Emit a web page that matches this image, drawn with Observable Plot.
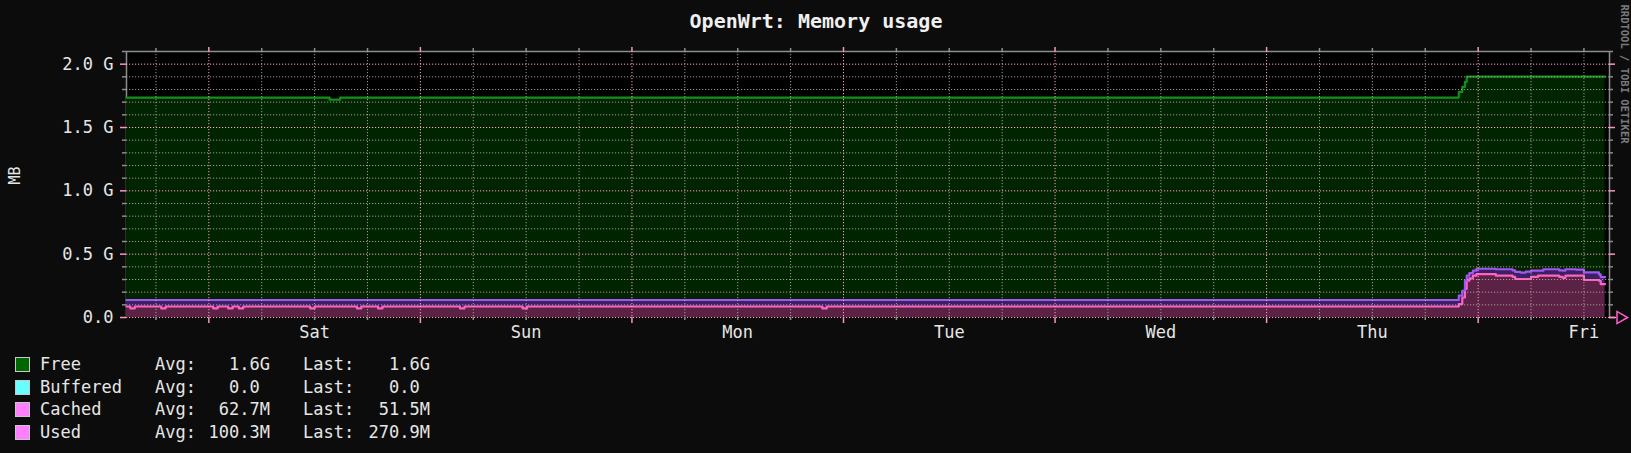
<!DOCTYPE html>
<html><head><meta charset="utf-8">
<script src="https://cdn.jsdelivr.net/npm/d3@7"></script>
<script src="https://cdn.jsdelivr.net/npm/@observablehq/plot@0.6"></script>
<style>
html,body{margin:0;padding:0;background:#0c0c0c;}
#wrap{position:relative;width:1631px;height:453px;overflow:hidden;font-family:"DejaVu Sans Mono",monospace;color:#e6e6e6;}
#chart{position:absolute;left:0;top:0;}
#legend{position:absolute;left:0;top:353px;font-size:17px;}
.row{position:relative;height:22.5px;line-height:22.5px;width:460px;white-space:pre;}
.sw{position:absolute;left:15px;top:4px;width:13px;height:13px;border:1px solid #c8c8c8;}
.nm{position:absolute;left:40px;}
.al{position:absolute;left:155px;}
.av{position:absolute;right:190px;}
.ll{position:absolute;left:303px;}
.lv{position:absolute;right:30px;}
</style>
</head><body>
<div id="wrap"><div id="chart"></div><div id="legend"></div></div>
<script>
// ---- data (memory in G, time in hours from Saturday 00:00) ----
const xDomain = [-9.34, 158.9];
const yDomain = [0, 2.1];
const hours = [-9.34, -8.9, -8.4, -5.4, -4.9, 0.5, 1.0, 2.2, 2.7, 3.4, 3.9, 11.5, 12.0,
  13.7, 14.9, 16.8, 17.3, 19.2, 19.7, 28.5, 29.0, 35.6, 36.1, 69.6, 70.1,
  141.8, 142.2, 142.5, 142.7, 143.0, 143.4, 143.8, 146.0, 147.9, 148.2, 148.8, 149.4,
  150.0, 150.8, 151.4, 153.2, 153.6, 153.9, 155.1, 156.0, 157.7, 157.9, 158.4];
const used = [.087,.072,.087,.072,.087,.072,.087,.072,.087,.072,.087,.072,.087,
  .087,.087,.072,.087,.072,.087,.072,.087,.072,.087,.072,.087,
  .106,.158,.225,.290,.309,.330,.343,.330,.320,.304,.304,.304,.320,.330,.330,.320,.312,.330,.330,.296,.290,.264,.264];
const cached = [.051,.066,.051,.066,.051,.066,.051,.066,.051,.066,.051,.066,.051,
  .051,.051,.066,.051,.066,.051,.066,.051,.066,.051,.066,.051,
  .066,.053,.065,.040,.042,.040,.042,.051,.052,.056,.051,.058,.050,.040,.051,.052,.058,.051,.048,.060,.050,.054,.054];
const free = [1.598,1.598,1.598,1.598,1.598,1.598,1.598,1.598,1.598,1.598,1.598,1.598,1.598,
  1.582,1.598,1.598,1.598,1.598,1.598,1.598,1.598,1.598,1.598,1.598,1.598,
  1.609,1.609,1.570,1.571,1.550,1.531,1.516,1.520,1.529,1.541,1.546,1.539,1.531,1.531,1.520,1.529,1.531,1.520,1.523,1.545,1.561,1.583,1.583];

const seriesNames = ["Used", "Cached", "Free"];
const fillColors = {Used: "#5c2246", Cached: "#3a2262", Free: "#002400"};
const lineColors = {Used: "#ff62c4", Cached: "#a456f4", Free: "#14901a"};

const majorY = [0, 0.5, 1.0, 1.5, 2.0];
const yLabels = ["0.0", "0.5 G", "1.0 G", "1.5 G", "2.0 G"];
const minorY = [0.1,0.2,0.3,0.4,0.6,0.7,0.8,0.9,1.1,1.2,1.3,1.4,1.6,1.7,1.8,1.9];
const minorYTicks = [...minorY, 2.1];
const majorX = [0, 24, 48, 72, 96, 120, 144];
const minorX = [-6, 6, 12, 18, 30, 36, 42, 54, 60, 66, 78, 84, 90, 102, 108, 114, 126, 132, 138, 150, 156];
const dayNoon = [12, 36, 60, 84, 108, 132, 156];
const dayLabels = ["Sat", "Sun", "Mon", "Tue", "Wed", "Thu", "Fri"];

const legendNames = ["Free", "Buffered", "Cached", "Used"];
const legendAvg = ["1.6G", "0.0", "62.7M", "100.3M"];
const legendLast = ["1.6G", "0.0", "51.5M", "270.9M"];
const legendColors = ["#006600", "#66ffff", "#ff80ff", "#ff80ff"];

const table = hours.flatMap((h, i) => [
  {h, series: "Used", value: used[i]},
  {h, series: "Cached", value: cached[i]},
  {h, series: "Free", value: free[i]}
]);

const gray = "#8c8c8c", pink = "#ff90c0";
const font = "DejaVu Sans Mono";

const chart = Plot.plot({
  width: 1631, height: 345,
  marginLeft: 126, marginRight: 22, marginTop: 51, marginBottom: 28,
  x: {domain: xDomain, axis: null},
  y: {domain: yDomain, axis: null},
  color: {type: "identity"},
  style: {background: "#0c0c0c", color: "#e6e6e6", fontFamily: font, fontSize: "17px"},
  marks: [
    Plot.frame({fill: "#000000", stroke: null}),
    Plot.ruleY([yDomain[1]], {stroke: gray, strokeWidth: 1.5}),
    Plot.ruleX(xDomain, {stroke: gray, strokeWidth: 1.5}),
    Plot.areaY(table, Plot.stackY({x: "h", y: "value", z: "series", order: seriesNames,
      fill: d => fillColors[d.series], curve: "step-after"})),
    Plot.lineY(table, Plot.stackY2({x: "h", y: "value", z: "series", order: seriesNames,
      stroke: d => lineColors[d.series], strokeWidth: 2.2, curve: "step-after"})),
    // grid
    Plot.ruleY(minorY, {stroke: "#b4b09c", strokeOpacity: 0.85, strokeDasharray: "1.2,1.8"}),
    Plot.ruleX(minorX, {stroke: "#b4b09c", strokeOpacity: 0.85, strokeDasharray: "1.2,1.8"}),
    Plot.ruleY(majorY, {stroke: "#ffa0c4", strokeOpacity: 1, strokeDasharray: "1.2,1.8"}),
    Plot.ruleX(majorX, {stroke: "#ffa0c4", strokeOpacity: 1, strokeDasharray: "1.2,1.8"}),
    // ticks outside
    Plot.ruleY(minorYTicks, {x1: xDomain[0], x2: xDomain[0], insetLeft: -4, stroke: gray, strokeWidth: 1.5}),
    Plot.ruleY(minorYTicks, {x1: xDomain[1], x2: xDomain[1], insetRight: -4, stroke: gray, strokeWidth: 1.5}),
    Plot.ruleY(majorY, {x1: xDomain[0], x2: xDomain[0], insetLeft: -6, stroke: pink, strokeWidth: 1.5}),
    Plot.ruleY(majorY, {x1: xDomain[1], x2: xDomain[1], insetRight: -6, stroke: pink, strokeWidth: 1.5}),
    Plot.ruleX(minorX, {y1: 0, y2: 0, insetBottom: -3, stroke: gray, strokeWidth: 1.5}),
    Plot.ruleX(minorX, {y1: yDomain[1], y2: yDomain[1], insetTop: -3, stroke: gray, strokeWidth: 1.5}),
    Plot.ruleX(majorX, {y1: 0, y2: 0, insetBottom: -6, stroke: pink, strokeWidth: 1.5}),
    Plot.ruleX(majorX, {y1: yDomain[1], y2: yDomain[1], insetTop: -4, stroke: pink, strokeWidth: 1.5}),
    // x axis arrow
    Plot.ruleY([0], {x1: xDomain[1], x2: xDomain[1], insetRight: -7, stroke: pink, strokeWidth: 1.5}),
    Plot.dot([0], {frameAnchor: "bottom-right", dx: 11, symbol: "triangle", rotate: 90, r: 4.5,
      stroke: "#ff60d0", strokeWidth: 1.5, fill: "#0c0c0c"}),
    // labels
    Plot.text(majorY, {y: d => d, text: (d, i) => yLabels[i], frameAnchor: "left", dx: -13,
      textAnchor: "end", lineAnchor: "middle", fontSize: 17, fill: "#e6e6e6"}),
    Plot.text(dayNoon, {x: d => d, text: (d, i) => dayLabels[i], frameAnchor: "bottom", dy: 15,
      lineAnchor: "middle", fontSize: 17, fill: "#e6e6e6"}),
    Plot.text(["MB"], {frameAnchor: "left", dx: -111, rotate: -90, lineAnchor: "middle",
      fontSize: 15, fill: "#e6e6e6"}),
    Plot.text(["OpenWrt: Memory usage"], {frameAnchor: "top", dx: -52, dy: -30, lineAnchor: "middle",
      fontSize: 20, fontWeight: "bold", fill: "#f0f0f0"}),
    Plot.text(["RRDTOOL / TOBI OETIKER"], {frameAnchor: "top-right", dx: 15, dy: -47, rotate: 90,
      textAnchor: "start", lineAnchor: "middle", fontSize: 10.5, fontWeight: "bold", fill: "#7a7a7a"})
  ]
});
document.getElementById("chart").appendChild(chart);

const legend = document.getElementById("legend");
legendNames.forEach((name, i) => {
  const pad = v => /[A-Za-z]$/.test(v) ? v : v + " ";
  const row = document.createElement("div");
  row.className = "row";
  row.innerHTML = `<span class="sw" style="background:${legendColors[i]}"></span>` +
    `<span class="nm">${name}</span><span class="al">Avg:</span>` +
    `<span class="av">${pad(legendAvg[i])}</span><span class="ll">Last:</span>` +
    `<span class="lv">${pad(legendLast[i])}</span>`;
  legend.appendChild(row);
});
</script>
</body></html>
